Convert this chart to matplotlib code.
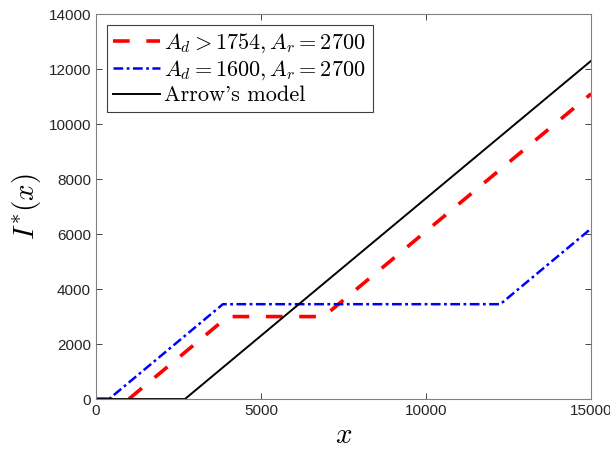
import numpy as np
import matplotlib
matplotlib.use("Agg")
import matplotlib.pyplot as plt

plt.rcParams['mathtext.fontset'] = 'cm'
plt.rcParams['lines.scale_dashes'] = False

# piecewise linear curves (breakpoints)
x_red = [0, 1000, 4000, 6900, 15000]
y_red = [0, 0, 3000, 3000, 11100]

x_blue = [0, 400, 3850, 12250, 15000]
y_blue = [0, 0, 3450, 3450, 6200]

x_arrow = [0, 2700, 15000]
y_arrow = [0, 0, 12300]

labels = [r'$A_d > 1754, A_r = 2700$', r'$A_d = 1600, A_r = 2700$', "Arrow's model"]

xticks = [0, 5000, 10000, 15000]
yticks = np.arange(0, 14001, 2000)

fig = plt.figure(figsize=(6.1, 4.54), dpi=100)
ax = fig.add_axes([0.157, 0.121, 0.812, 0.848])

ax.plot(x_red, y_red, color='red', lw=2.6, linestyle=(0, (12, 12)), label=labels[0])
ax.plot(x_blue, y_blue, color='blue', lw=1.8, linestyle=(0, (7, 2.5, 2, 2.5)), label=labels[1])
ax.plot(x_arrow, y_arrow, color='black', lw=1.4, label=labels[2])

ax.set_xlim(0, 15000)
ax.set_ylim(0, 14000)
ax.set_xticks(xticks)
ax.set_yticks(yticks)
ax.tick_params(direction='in', top=True, right=True, labelsize=11, colors='#262626', length=4, width=0.6)
for lab in ax.get_xticklabels() + ax.get_yticklabels():
    lab.set_fontfamily('Liberation Sans')
for s in ax.spines.values():
    s.set_color('#808080')
    s.set_linewidth(0.8)

ax.set_xlabel(r'$x$', fontsize=21, labelpad=2)
ax.set_ylabel(r'$I^{*}(x)$', fontsize=21, labelpad=4)

leg = ax.legend(loc='upper left', bbox_to_anchor=(0.022, 0.972),
                prop={'family': ['cmr10', 'DejaVu Serif'], 'size': 16},
                handlelength=2.1, handletextpad=0.2, labelspacing=0.15,
                borderpad=0.3, borderaxespad=0, fancybox=False, framealpha=1)
leg.get_frame().set_edgecolor('#404040')
leg.get_frame().set_linewidth(0.8)

fig.savefig('out.png', dpi=100)
